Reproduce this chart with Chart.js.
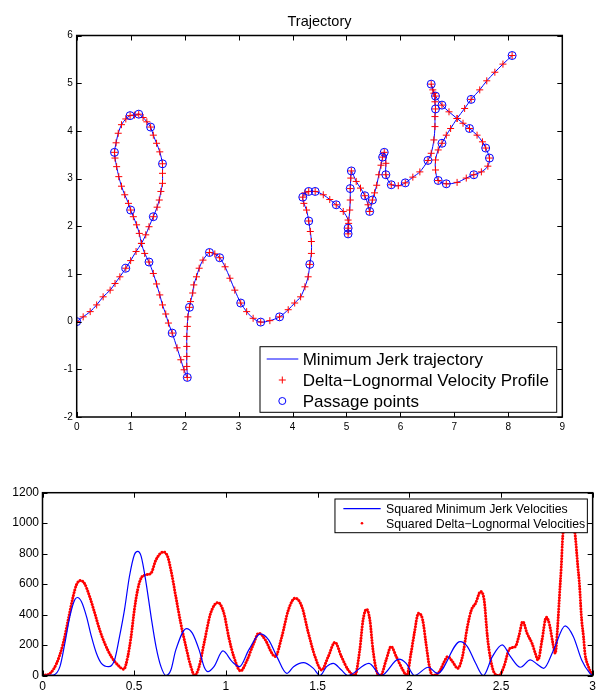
<!DOCTYPE html>
<html>
<head>
<meta charset="utf-8">
<script src="https://cdn.jsdelivr.net/npm/chart.js@4"></script>
<style>
  body { margin: 0; background: #fff; }
  #wrap { position: relative; width: 600px; height: 693px; }
  canvas { position: absolute; left: 0; }
  #trajChart { top: 0; }
  #velChart { top: 470px; }
</style>
</head>
<body>
<div id="wrap">
  <canvas id="trajChart" width="600" height="440"></canvas>
  <canvas id="velChart" width="600" height="223"></canvas>
</div>
<script>
// pen path (x, y) along the handwriting
const trajX = [0, 0.12, 0.25, 0.37, 0.49, 0.62, 0.71, 0.80, 0.91, 1.00, 1.10, 1.20, 1.28, 1.34, 1.42, 1.49, 1.53, 1.56, 1.59, 1.59,
  1.59, 1.54, 1.48, 1.42, 1.37, 1.30, 1.23, 1.15, 1.07, 0.99, 0.91, 0.83, 0.77, 0.73, 0.70, 0.71, 0.74, 0.78, 0.83, 0.89,
  0.96, 1.00, 1.05, 1.11, 1.16, 1.20, 1.26, 1.34, 1.42, 1.48, 1.54, 1.59, 1.65, 1.70, 1.77, 1.86, 1.93, 1.99, 2.05, 2.04,
  2.04, 2.04, 2.04, 2.05, 2.06, 2.09, 2.11, 2.15, 2.17, 2.22, 2.27, 2.34, 2.46, 2.56, 2.65, 2.75, 2.84, 2.93, 3.04, 3.15,
  3.27, 3.41, 3.58, 3.76, 3.92, 4.04, 4.15, 4.23, 4.29, 4.32, 4.35, 4.35, 4.33, 4.30, 4.26, 4.21, 4.19, 4.23, 4.30, 4.42,
  4.57, 4.69, 4.81, 4.94, 5.03, 5.03, 5.03, 5.04, 5.06, 5.07, 5.07, 5.08, 5.09, 5.18, 5.26, 5.34, 5.40, 5.43, 5.48, 5.52,
  5.56, 5.60, 5.64, 5.67, 5.70, 5.73, 5.73, 5.83, 5.96, 6.09, 6.23, 6.36, 6.51, 6.57, 6.62, 6.64, 6.64, 6.65, 6.64, 6.62,
  6.57, 6.60, 6.65, 6.77, 6.90, 7.05, 7.16, 7.28, 7.42, 7.52, 7.58, 7.65, 7.62, 7.50, 7.36, 7.22, 7.05, 6.85, 6.70, 6.65,
  6.65, 6.70, 6.77, 6.85, 6.93, 7.05, 7.19, 7.31, 7.47, 7.60, 7.75, 7.90, 8.07];
const trajY = [0, 0.10, 0.21, 0.35, 0.52, 0.66, 0.80, 0.94, 1.12, 1.28, 1.47, 1.64, 1.82, 1.99, 2.20, 2.40, 2.55, 2.73, 2.90, 3.11,
  3.31, 3.56, 3.74, 3.91, 4.08, 4.19, 4.28, 4.35, 4.33, 4.32, 4.25, 4.13, 3.95, 3.75, 3.55, 3.43, 3.25, 3.04, 2.84, 2.66,
  2.48, 2.34, 2.20, 2.03, 1.85, 1.64, 1.43, 1.25, 1.01, 0.79, 0.56, 0.35, 0.16, -0.03, -0.24, -0.55, -0.80, -1.01, -1.17, -0.94,
  -0.73, -0.52, -0.31, -0.10, 0.10, 0.30, 0.42, 0.60, 0.77, 0.94, 1.12, 1.29, 1.45, 1.42, 1.34, 1.15, 0.91, 0.66, 0.39, 0.21,
  0.07, -0.01, 0.02, 0.10, 0.25, 0.39, 0.52, 0.73, 0.94, 1.20, 1.43, 1.68, 1.89, 2.11, 2.34, 2.48, 2.61, 2.70, 2.73, 2.73,
  2.66, 2.56, 2.45, 2.31, 2.13, 1.96, 1.84, 2.06, 2.34, 2.55, 2.79, 3.01, 3.16, 2.94, 2.80, 2.64, 2.45, 2.31, 2.55, 2.70,
  2.86, 3.08, 3.28, 3.45, 3.55, 3.32, 3.08, 2.87, 2.85, 2.91, 3.03, 3.14, 3.38, 3.53, 3.81, 4.09, 4.30, 4.46, 4.61, 4.79,
  4.98, 4.86, 4.73, 4.54, 4.40, 4.26, 4.16, 4.05, 3.91, 3.77, 3.64, 3.43, 3.26, 3.14, 3.08, 3.01, 2.92, 2.89, 2.96, 3.18,
  3.39, 3.60, 3.74, 3.91, 4.05, 4.26, 4.47, 4.66, 4.86, 5.05, 5.23, 5.40, 5.58];

// passage points
const passX = [0, 0.91, 1.42, 1.59, 1.37, 1.15, 0.99, 0.70, 1.00, 1.34, 1.77, 2.05, 2.09, 2.46, 2.65, 3.04, 3.41, 3.76, 4.32, 4.30,
  4.19, 4.30, 4.42, 4.81, 5.03, 5.03, 5.07, 5.09, 5.34, 5.43, 5.48, 5.67, 5.70, 5.73, 5.83, 6.09, 6.51, 6.57, 6.65, 6.65,
  6.77, 7.28, 7.58, 7.65, 7.36, 6.85, 6.70, 6.77, 7.31, 8.07];
const passY = [0, 1.12, 2.20, 3.31, 4.08, 4.35, 4.32, 3.55, 2.34, 1.25, -0.24, -1.17, 0.30, 1.45, 1.34, 0.39, -0.01, 0.10, 1.20, 2.11,
  2.61, 2.73, 2.73, 2.45, 1.96, 1.84, 2.79, 3.16, 2.64, 2.31, 2.55, 3.45, 3.55, 3.08, 2.87, 2.91, 3.38, 4.98, 4.73, 4.46,
  4.54, 4.05, 3.64, 3.43, 3.08, 2.89, 2.96, 3.74, 4.66, 5.58];

const trajTicksX = [0, 1, 2, 3, 4, 5, 6, 7, 8, 9];
const trajTicksY = [-2, -1, 0, 1, 2, 3, 4, 5, 6];

// squared velocities over time
const minJerkT = [0, 0.059, 0.095, 0.122, 0.149, 0.176, 0.19, 0.212, 0.24, 0.267, 0.294, 0.321, 0.36, 0.393, 0.42, 0.447, 0.474, 0.501, 0.519, 0.538,
  0.565, 0.592, 0.619, 0.646, 0.673, 0.70, 0.727, 0.785, 0.817, 0.854, 0.881, 0.902, 0.935, 0.984, 1.034, 1.074, 1.125, 1.188, 1.233, 1.278,
  1.332, 1.369, 1.423, 1.477, 1.513, 1.549, 1.585, 1.630, 1.665, 1.780, 1.847, 1.943, 1.983, 2.028, 2.104, 2.154, 2.277, 2.317, 2.362, 2.404,
  2.453, 2.507, 2.552, 2.606, 2.660, 2.696, 2.733, 2.787, 2.850, 2.895, 2.940, 2.985, 3.0];
const minJerkV = [0, 3, 58, 212, 387, 497, 512, 486, 387, 255, 146, 80, 58, 102, 255, 431, 650, 793, 815, 782,
  607, 387, 190, 58, 0, 36, 168, 308, 278, 168, 58, 25, 58, 161, 91, 58, 168, 273, 234, 124,
  14, 58, 84, 47, 0, 58, 80, 36, 0, 80, 0, 107, 80, 0, 54, 14, 222, 190, 80, 0,
  124, 201, 124, 54, 102, 76, 47, 168, 326, 255, 102, 14, 0];

const lognormT = [0, 0.041, 0.077, 0.113, 0.140, 0.167, 0.185, 0.207, 0.230, 0.257, 0.285, 0.312, 0.339, 0.375, 0.411, 0.443, 0.465, 0.483, 0.501, 0.519,
  0.538, 0.565, 0.592, 0.619, 0.659, 0.682, 0.700, 0.727, 0.754, 0.782, 0.809, 0.830, 0.854, 0.881, 0.917, 0.957, 0.989, 1.016, 1.043, 1.080,
  1.116, 1.152, 1.179, 1.215, 1.251, 1.269, 1.305, 1.341, 1.378, 1.414, 1.450, 1.486, 1.522, 1.558, 1.595, 1.630, 1.667, 1.703, 1.730, 1.748,
  1.767, 1.785, 1.802, 1.826, 1.844, 1.874, 1.901, 1.929, 1.965, 1.986, 2.010, 2.028, 2.050, 2.073, 2.091, 2.110, 2.127, 2.164, 2.191, 2.209,
  2.236, 2.264, 2.290, 2.317, 2.339, 2.362, 2.389, 2.408, 2.426, 2.444, 2.465, 2.489, 2.516, 2.543, 2.561, 2.579, 2.597, 2.619, 2.642, 2.669,
  2.687, 2.702, 2.724, 2.747, 2.765, 2.783, 2.796, 2.809, 2.820, 2.829, 2.837, 2.871, 2.905, 2.913, 2.919, 2.926, 2.931, 2.935, 2.940, 2.950,
  2.958, 2.977, 3.0];
const lognormV = [0, 14, 80, 212, 365, 518, 595, 624, 602, 518, 409, 299, 212, 124, 69, 41, 124, 255, 431, 563,
  640, 661, 672, 760, 811, 782, 694, 518, 343, 190, 58, 0, 58, 212, 409, 479, 410, 250, 124, 30,
  102, 212, 278, 234, 146, 124, 255, 431, 508, 453, 278, 124, 36, 124, 218, 124, 36, 0, 168, 365,
  435, 365, 168, 14, 0, 102, 190, 124, 36, 0, 150, 280, 409, 365, 212, 58, 0, 25, 91, 124,
  91, 47, 124, 321, 431, 475, 551, 497, 255, 102, 14, 0, 58, 168, 183, 190, 255, 354, 278, 212,
  146, 102, 234, 383, 332, 212, 146, 321, 541, 716, 913, 1120, 918, 804, 716, 628, 541, 453, 365, 255,
  146, 58, 0];

const velTicksX = [0, 0.5, 1, 1.5, 2, 2.5, 3];
const velTicksY = [0, 200, 400, 600, 800, 1000, 1200];

const FONT = '"Liberation Sans", Arial, Helvetica, sans-serif';
const BLUE = '#0000ff';
const RED = '#ff0000';

const xy = (xs, ys) => xs.map((x, i) => ({ x: x, y: ys[i] }));

// boxed axes with inward ticks on all four sides
const boxTicks = {
  id: 'boxTicks',
  afterDatasetsDraw(chart) {
    const { ctx, chartArea: a, scales: { x, y } } = chart;
    const len = 5;
    ctx.save();
    ctx.strokeStyle = '#000';
    ctx.lineWidth = 1;
    ctx.beginPath();
    x.ticks.forEach(t => {
      const px = Math.round(x.getPixelForValue(t.value)) + 0.5;
      ctx.moveTo(px, a.bottom); ctx.lineTo(px, a.bottom - len);
      ctx.moveTo(px, a.top); ctx.lineTo(px, a.top + len);
    });
    y.ticks.forEach(t => {
      const py = Math.round(y.getPixelForValue(t.value)) + 0.5;
      ctx.moveTo(a.left, py); ctx.lineTo(a.left + len, py);
      ctx.moveTo(a.right, py); ctx.lineTo(a.right - len, py);
    });
    ctx.stroke();
    ctx.lineWidth = 1.5;
    ctx.strokeRect(a.left, a.top, a.right - a.left, a.bottom - a.top);
    ctx.restore();
  }
};

function legendBox(ctx, x, y, w, h) {
  ctx.fillStyle = '#fff';
  ctx.fillRect(x, y, w, h);
  ctx.strokeStyle = '#000';
  ctx.lineWidth = 1;
  ctx.strokeRect(x, y, w, h);
}

const trajLegend = {
  id: 'trajLegend',
  afterDraw(chart) {
    const { ctx, chartArea: a } = chart;
    const w = 296.7, h = 65.6;
    const bx = a.right - 5.6 - w, by = a.bottom - 4.7 - h;
    ctx.save();
    legendBox(ctx, bx, by, w, h);
    const rows = [by + 12.3, by + 33.3, by + 54.3];
    const mx = bx + 22.3;
    ctx.lineWidth = 1;
    ctx.strokeStyle = BLUE;
    ctx.beginPath();
    ctx.moveTo(bx + 6.7, rows[0]); ctx.lineTo(bx + 38.3, rows[0]);
    ctx.stroke();
    ctx.strokeStyle = RED;
    ctx.beginPath();
    ctx.moveTo(mx - 3.5, rows[1]); ctx.lineTo(mx + 3.5, rows[1]);
    ctx.moveTo(mx, rows[1] - 3.5); ctx.lineTo(mx, rows[1] + 3.5);
    ctx.stroke();
    ctx.strokeStyle = BLUE;
    ctx.beginPath();
    ctx.arc(mx, rows[2], 3.5, 0, Math.PI * 2);
    ctx.stroke();
    ctx.fillStyle = '#000';
    ctx.font = '17px ' + FONT;
    ctx.textBaseline = 'middle';
    ctx.textAlign = 'left';
    chart.data.datasets.slice().reverse().forEach((ds, i) => {
      ctx.fillText(ds.label, bx + 42.7, rows[i] + 1);
    });
    // title
    ctx.font = '14.5px ' + FONT;
    ctx.textAlign = 'center';
    ctx.fillText('Trajectory', (a.left + a.right) / 2, 21.5);
    ctx.restore();
  }
};

const velLegend = {
  id: 'velLegend',
  afterDraw(chart) {
    const { ctx, chartArea: a } = chart;
    const w = 252.4, h = 33.7;
    const bx = a.right - 5.3 - w, by = a.top + 6.3;
    ctx.save();
    legendBox(ctx, bx, by, w, h);
    const rows = [by + 9.7, by + 24.3];
    ctx.strokeStyle = BLUE;
    ctx.lineWidth = 1.2;
    ctx.beginPath();
    ctx.moveTo(bx + 8.4, rows[0]); ctx.lineTo(bx + 45.7, rows[0]);
    ctx.stroke();
    ctx.fillStyle = RED;
    ctx.beginPath();
    ctx.arc(bx + 27, rows[1], 1.3, 0, Math.PI * 2);
    ctx.fill();
    ctx.fillStyle = '#000';
    ctx.font = '12.3px ' + FONT;
    ctx.textBaseline = 'middle';
    ctx.textAlign = 'left';
    chart.data.datasets.forEach((ds, i) => {
      ctx.fillText(ds.label, bx + 51, rows[i] + 1);
    });
    ctx.restore();
  }
};

function axis(min, max, tickVals, fontSize, pad, fit) {
  return {
    type: 'linear',
    min: min,
    max: max,
    afterBuildTicks: s => { s.ticks = tickVals.map(v => ({ value: v })); },
    afterFit: fit,
    grid: { display: false, drawTicks: false },
    border: { display: false },
    ticks: {
      color: '#000',
      font: { family: FONT, size: fontSize },
      padding: pad,
      maxRotation: 0,
      autoSkip: false,
      callback: v => String(v)
    }
  };
}

new Chart(document.getElementById('trajChart'), {
  type: 'scatter',
  data: {
    datasets: [
      {
        label: 'Passage points',
        data: xy(passX, passY),
        pointStyle: 'circle',
        pointRadius: 4,
        borderColor: BLUE,
        backgroundColor: 'rgba(0,0,0,0)',
        borderWidth: 1,
        order: 1
      },
      {
        label: 'Delta\u2212Lognormal Velocity Profile',
        data: xy(trajX, trajY),
        pointStyle: 'cross',
        pointRadius: 3.5,
        borderColor: RED,
        borderWidth: 1,
        order: 2
      },
      {
        label: 'Minimum Jerk trajectory',
        data: xy(trajX, trajY),
        showLine: true,
        pointRadius: 0,
        borderColor: BLUE,
        borderWidth: 1,
        tension: 0.3,
        order: 3
      }
    ]
  },
  options: {
    responsive: false,
    animation: false,
    events: [],
    layout: { padding: { top: 35.5, right: 37.7, left: 0, bottom: 0 } },
    plugins: { legend: { display: false }, tooltip: { enabled: false } },
    scales: {
      x: axis(0, 9, trajTicksX, 10, 4, s => { s.height = 23; }),
      y: axis(-2, 6, trajTicksY, 10, 4, s => { s.width = 76.7; })
    }
  },
  plugins: [boxTicks, trajLegend]
});

new Chart(document.getElementById('velChart'), {
  type: 'scatter',
  data: {
    datasets: [
      {
        label: 'Squared Minimum Jerk Velocities',
        data: xy(minJerkT, minJerkV),
        showLine: true,
        pointRadius: 0,
        borderColor: BLUE,
        borderWidth: 1.2,
        cubicInterpolationMode: 'monotone'
      },
      {
        label: 'Squared Delta\u2212Lognormal Velocities',
        data: xy(lognormT, lognormV),
        showLine: true,
        pointRadius: 0,
        borderColor: RED,
        borderWidth: 3,
        borderDash: [0.01, 2.8],
        borderCapStyle: 'round',
        cubicInterpolationMode: 'monotone'
      }
    ]
  },
  options: {
    responsive: false,
    animation: false,
    events: [],
    layout: { padding: { top: 22.7, right: 4, left: 0, bottom: 0 } },
    plugins: { legend: { display: false }, tooltip: { enabled: false } },
    scales: {
      x: axis(0, 3, velTicksX, 12, 4, s => { s.height = 17.5; }),
      y: axis(0, 1200, velTicksY, 12, 3.5, s => { s.width = 42.5; })
    }
  },
  plugins: [boxTicks, velLegend]
});
</script>
</body>
</html>
